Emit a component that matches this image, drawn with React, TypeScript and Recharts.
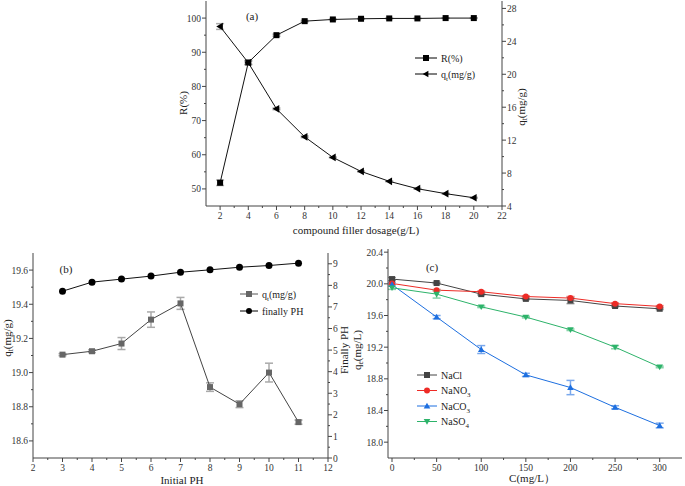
import React from "react";
import { LineChart, Line, XAxis, YAxis, ErrorBar, Legend } from "recharts";

const FONT = "'Liberation Serif', 'Times New Roman', serif";
const AXIS = "#444";

// (a) compound filler dosage
const dosage = [2, 4, 6, 8, 10, 12, 14, 16, 18, 20];
const removal = [51.8, 87.0, 95.0, 99.1, 99.6, 99.8, 99.9, 99.9, 100.0, 100.0];
const removalErr = [0.8, 0.6, 0.3, 0.2, 0.1, 0.1, 0.1, 0.1, 0.1, 0.1];
const qtDosage = [25.8, 21.4, 15.8, 12.4, 9.9, 8.2, 7.0, 6.1, 5.5, 5.0];
const qtDosageErr = [0.35, 0.2, 0.1, 0.1, 0.05, 0.05, 0.05, 0.05, 0.05, 0.05];
const dosageTicks = [2, 4, 6, 8, 10, 12, 14, 16, 18, 20, 22];
const dosageMinor = [3, 5, 7, 9, 11, 13, 15, 17, 19, 21];
const removalTicks = [50, 60, 70, 80, 90, 100];
const removalMinor = [55, 65, 75, 85, 95];
const qtTicksA = [4, 8, 12, 16, 20, 24, 28];
const qtMinorA = [6, 10, 14, 18, 22, 26];

// (b) initial pH
const initialPH = [3, 4, 5, 6, 7, 8, 9, 10, 11];
const qtPH = [19.105, 19.125, 19.17, 19.31, 19.405, 18.915, 18.815, 19.0, 18.71];
const qtPHErr = [0.006, 0.008, 0.035, 0.045, 0.035, 0.025, 0.02, 0.055, 0.012];
const finalPH = [7.73, 8.15, 8.29, 8.43, 8.61, 8.72, 8.84, 8.92, 9.03];
const phTicks = [2, 3, 4, 5, 6, 7, 8, 9, 10, 11, 12];
const phMinor = [2.5, 3.5, 4.5, 5.5, 6.5, 7.5, 8.5, 9.5, 10.5, 11.5];
const qtTicksB = [18.6, 18.8, 19.0, 19.2, 19.4, 19.6];
const qtMinorB = [18.7, 18.9, 19.1, 19.3, 19.5];
const finalTicks = [0, 1, 2, 3, 4, 5, 6, 7, 8, 9];
const finalMinor = [0.5, 1.5, 2.5, 3.5, 4.5, 5.5, 6.5, 7.5, 8.5];

// (c) coexisting salts
const conc = [0, 50, 100, 150, 200, 250, 300];
const naCl = [20.06, 20.01, 19.87, 19.81, 19.79, 19.72, 19.685];
const naClErr = [0.02, 0.01, 0.01, 0.01, 0.04, 0.01, 0.01];
const naNO3 = [20.005, 19.92, 19.9, 19.84, 19.82, 19.75, 19.715];
const naNO3Err = [0.01, 0.01, 0.01, 0.01, 0.02, 0.01, 0.01];
const naCO3 = [19.99, 19.58, 19.17, 18.85, 18.69, 18.44, 18.21];
const naCO3Err = [0.02, 0.02, 0.05, 0.02, 0.09, 0.02, 0.03];
const naSO4 = [19.95, 19.87, 19.71, 19.58, 19.42, 19.2, 18.95];
const naSO4Err = [0.02, 0.05, 0.01, 0.01, 0.01, 0.02, 0.01];
const concTicks = [0, 50, 100, 150, 200, 250, 300];
const concMinor = [25, 75, 125, 175, 225, 275];
const qeTicks = [18.0, 18.4, 18.8, 19.2, 19.6, 20.0, 20.4];
const qeMinor = [18.2, 18.6, 19.0, 19.4, 19.8, 20.2];

const dataA = dosage.map((d, i) => ({ d, r: removal[i], rErr: removalErr[i], q: qtDosage[i], qErr: qtDosageErr[i] }));
const dataB = initialPH.map((p, i) => ({ p, q: qtPH[i], qErr: qtPHErr[i], f: finalPH[i] }));
const dataC = conc.map((c, i) => ({
  c,
  cl: naCl[i], clErr: naClErr[i],
  no3: naNO3[i], no3Err: naNO3Err[i],
  co3: naCO3[i], co3Err: naCO3Err[i],
  so4: naSO4[i], so4Err: naSO4Err[i],
}));

type Shape = "square" | "circle" | "up" | "down" | "left";

function Marker({ cx, cy, shape, fill, s }: { cx: number; cy: number; shape: Shape; fill: string; s: number }) {
  if (cx == null || cy == null) return null;
  const h = s / 2;
  if (shape === "square") return <rect x={cx - h} y={cy - h} width={s} height={s} fill={fill} />;
  if (shape === "circle") return <circle cx={cx} cy={cy} r={h} fill={fill} />;
  if (shape === "up")
    return <polygon points={`${cx},${cy - h * 1.1} ${cx - h * 1.1},${cy + h * 0.8} ${cx + h * 1.1},${cy + h * 0.8}`} fill={fill} />;
  if (shape === "down")
    return <polygon points={`${cx},${cy + h * 1.1} ${cx - h * 1.1},${cy - h * 0.8} ${cx + h * 1.1},${cy - h * 0.8}`} fill={fill} />;
  return <polygon points={`${cx - h * 1.1},${cy} ${cx + h * 0.8},${cy - h * 1.1} ${cx + h * 0.8},${cy + h * 1.1}`} fill={fill} />;
}

const dotOf = (shape: Shape, fill: string, s: number) => (p: any) =>
  <Marker key={`m-${p.index}`} cx={p.cx} cy={p.cy} shape={shape} fill={fill} s={s} />;

function makeTick(side: "left" | "right" | "bottom", majors: number[], fmt: (v: number) => string) {
  return (props: any) => {
    const { x, y, payload } = props;
    const v = Number(payload.value);
    const major = majors.some((m) => Math.abs(m - v) < 1e-6);
    const len = major ? 4 : 2;
    const txt = { fontFamily: FONT, fontSize: 9.5, fill: "#333" };
    if (side === "bottom")
      return (
        <g>
          <line x1={x} y1={y} x2={x} y2={y + len} stroke={AXIS} />
          {major && <text x={x} y={y + 13} textAnchor="middle" {...txt}>{fmt(v)}</text>}
        </g>
      );
    if (side === "left")
      return (
        <g>
          <line x1={x} y1={y} x2={x - len} y2={y} stroke={AXIS} />
          {major && <text x={x - 5} y={y + 3.5} textAnchor="end" {...txt}>{fmt(v)}</text>}
        </g>
      );
    return (
      <g>
        <line x1={x} y1={y} x2={x + len} y2={y} stroke={AXIS} />
        {major && <text x={x + 5} y={y + 3.5} textAnchor="start" {...txt}>{fmt(v)}</text>}
      </g>
    );
  };
}

const int = (v: number) => String(Math.round(v));
const one = (v: number) => v.toFixed(1);

type Item = { main: string; sub?: string; rest?: string; shape: Shape; color: string; line: string };

function LegendBox({ items, gap, lineLen }: { items: Item[]; gap: number; lineLen: number }) {
  return (
    <svg width={110} height={items.length * gap + 4} style={{ overflow: "visible" }}>
      {items.map((it, i) => {
        const y = 6 + i * gap;
        return (
          <g key={it.main + (it.sub || "")}>
            <line x1={0} y1={y} x2={lineLen} y2={y} stroke={it.line} />
            <Marker cx={lineLen / 2} cy={y} shape={it.shape} fill={it.color} s={6} />
            <text x={lineLen + 4} y={y + 3.5} fontFamily={FONT} fontSize={10} fill="#222">
              <tspan>{it.main}</tspan>
              {it.sub && <tspan fontSize={7} dy={3}>{it.sub}</tspan>}
              {it.rest && <tspan dy={it.sub ? -3 : 0}>{it.rest}</tspan>}
            </text>
          </g>
        );
      })}
    </svg>
  );
}

const legendA: Item[] = [
  { main: "R(%)", shape: "square", color: "#000", line: "#000" },
  { main: "q", sub: "t", rest: "(mg/g)", shape: "left", color: "#000", line: "#000" },
];
const legendB: Item[] = [
  { main: "q", sub: "t", rest: "(mg/g)", shape: "square", color: "#666", line: "#555" },
  { main: "finally PH", shape: "circle", color: "#000", line: "#000" },
];
const legendC: Item[] = [
  { main: "NaCl", shape: "square", color: "#444", line: "#444" },
  { main: "NaNO", sub: "3", shape: "circle", color: "#ee2b26", line: "#ee2b26" },
  { main: "NaCO", sub: "3", shape: "up", color: "#1d6fe0", line: "#1d6fe0" },
  { main: "NaSO", sub: "4", shape: "down", color: "#2db36a", line: "#2db36a" },
];

const W = 685;
const H = 486;
const layer: React.CSSProperties = { position: "absolute", left: 0, top: 0 };

function Title({ x, y, rot, main, sub, rest }: { x: number; y: number; rot?: boolean; main: string; sub?: string; rest?: string }) {
  return (
    <text
      x={x}
      y={y}
      textAnchor="middle"
      dominantBaseline={rot ? "central" : undefined}
      transform={rot ? `rotate(-90 ${x} ${y})` : undefined}
      fontFamily={FONT}
      fontSize={11}
      fill="#222"
    >
      <tspan>{main}</tspan>
      {sub && <tspan fontSize={7.5} dy={3}>{sub}</tspan>}
      {rest && <tspan dy={sub ? -3 : 0}>{rest}</tspan>}
    </text>
  );
}

export default function App() {
  return (
    <div style={{ position: "absolute", left: 0, top: 0, width: W, height: H, background: "#fff" }}>
      {/* (a) */}
      <div style={layer}>
        <LineChart width={W} height={H} data={dataA} margin={{ top: 1, left: 166, right: 143, bottom: 260 }}>
          <XAxis dataKey="d" type="number" domain={[1, 22]} ticks={[...dosageTicks, ...dosageMinor]} interval={0}
            tick={makeTick("bottom", dosageTicks, int)} tickLine={false} tickSize={0} tickMargin={0} height={20}
            axisLine={{ stroke: AXIS }} allowDataOverflow />
          <XAxis xAxisId="top" orientation="top" type="number" domain={[1, 22]} tick={false} tickLine={false} height={0}
            axisLine={{ stroke: AXIS }} />
          <YAxis yAxisId="r" type="number" domain={[45, 105]} ticks={[...removalTicks, ...removalMinor]} interval={0}
            tick={makeTick("left", removalTicks, int)} tickLine={false} tickSize={0} tickMargin={0} width={40}
            axisLine={{ stroke: AXIS }} allowDataOverflow />
          <YAxis yAxisId="q" orientation="right" type="number" domain={[4, 28.9]} ticks={[...qtTicksA, ...qtMinorA]} interval={0}
            tick={makeTick("right", qtTicksA, int)} tickLine={false} tickSize={0} tickMargin={0} width={40}
            axisLine={{ stroke: AXIS }} allowDataOverflow />
          <Line yAxisId="r" dataKey="r" stroke="#111" strokeWidth={1} dot={dotOf("square", "#000", 6)} isAnimationActive={false}>
            <ErrorBar dataKey="rErr" width={4} stroke="#aaa" direction="y" />
          </Line>
          <Line yAxisId="q" dataKey="q" stroke="#111" strokeWidth={1} dot={dotOf("left", "#000", 7)} isAnimationActive={false}>
            <ErrorBar dataKey="qErr" width={4} stroke="#aaa" direction="y" />
          </Line>
          <Legend layout="vertical" align="center" verticalAlign="middle"
            wrapperStyle={{ left: 415, top: 52, width: 110, height: 34 }}
            content={() => <LegendBox items={legendA} gap={16} lineLen={22} />} />
        </LineChart>
      </div>

      {/* (b) */}
      <div style={layer}>
        <LineChart width={W} height={H} data={dataB} margin={{ top: 253, left: 3, right: 327, bottom: 8 }}>
          <XAxis dataKey="p" type="number" domain={[2, 12]} ticks={[...phTicks, ...phMinor]} interval={0}
            tick={makeTick("bottom", phTicks, int)} tickLine={false} tickSize={0} tickMargin={0} height={20}
            axisLine={{ stroke: AXIS }} />
          <XAxis xAxisId="top" orientation="top" type="number" domain={[2, 12]} tick={false} tickLine={false} height={0}
            axisLine={{ stroke: AXIS }} />
          <YAxis yAxisId="q" type="number" domain={[18.5, 19.7]} ticks={[...qtTicksB, ...qtMinorB]} interval={0}
            tick={makeTick("left", qtTicksB, one)} tickLine={false} tickSize={0} tickMargin={0} width={30}
            axisLine={{ stroke: AXIS }} allowDataOverflow />
          <YAxis yAxisId="f" orientation="right" type="number" domain={[0, 9.5]} ticks={[...finalTicks, ...finalMinor]} interval={0}
            tick={makeTick("right", finalTicks, int)} tickLine={false} tickSize={0} tickMargin={0} width={30}
            axisLine={{ stroke: AXIS }} allowDataOverflow />
          <Line yAxisId="q" dataKey="q" stroke="#444" strokeWidth={1} dot={dotOf("square", "#666", 6)} isAnimationActive={false}>
            <ErrorBar dataKey="qErr" width={4} stroke="#aaa" direction="y" />
          </Line>
          <Line yAxisId="f" dataKey="f" stroke="#111" strokeWidth={1} dot={dotOf("circle", "#000", 7)} isAnimationActive={false} />
          <Legend layout="vertical" align="center" verticalAlign="middle"
            wrapperStyle={{ left: 240, top: 288, width: 110, height: 34 }}
            content={() => <LegendBox items={legendB} gap={17} lineLen={18} />} />
        </LineChart>
      </div>

      {/* (c) */}
      <div style={layer}>
        <LineChart width={W} height={H} data={dataC} margin={{ top: 249, left: 358, right: 3, bottom: 8 }}>
          <XAxis dataKey="c" type="number" domain={[-4.5, 325]} ticks={[...concTicks, ...concMinor]} interval={0}
            tick={makeTick("bottom", concTicks, int)} tickLine={false} tickSize={0} tickMargin={0} height={20}
            axisLine={{ stroke: AXIS }} allowDataOverflow />
          <XAxis xAxisId="top" orientation="top" type="number" domain={[-4.5, 325]} tick={false} tickLine={false} height={0}
            axisLine={{ stroke: AXIS }} />
          <YAxis type="number" domain={[17.8, 20.44]} ticks={[...qeTicks, ...qeMinor]} interval={0}
            tick={makeTick("left", qeTicks, one)} tickLine={false} tickSize={0} tickMargin={0} width={30}
            axisLine={{ stroke: AXIS }} allowDataOverflow />
          <YAxis yAxisId="frame" orientation="right" type="number" domain={[0, 1]} tick={false} tickLine={false} width={0}
            axisLine={{ stroke: AXIS }} />
          <Line dataKey="cl" stroke="#444" strokeWidth={1} dot={dotOf("square", "#444", 6)} isAnimationActive={false}>
            <ErrorBar dataKey="clErr" width={4} stroke="#999" direction="y" />
          </Line>
          <Line dataKey="no3" stroke="#ee2b26" strokeWidth={1} dot={dotOf("circle", "#ee2b26", 6)} isAnimationActive={false}>
            <ErrorBar dataKey="no3Err" width={4} stroke="#f08a86" direction="y" />
          </Line>
          <Line dataKey="co3" stroke="#1d6fe0" strokeWidth={1} dot={dotOf("up", "#1d6fe0", 6)} isAnimationActive={false}>
            <ErrorBar dataKey="co3Err" width={4} stroke="#7aa8ec" direction="y" />
          </Line>
          <Line dataKey="so4" stroke="#2db36a" strokeWidth={1} dot={dotOf("down", "#2db36a", 6)} isAnimationActive={false}>
            <ErrorBar dataKey="so4Err" width={4} stroke="#86d3a8" direction="y" />
          </Line>
          <Legend layout="vertical" align="center" verticalAlign="middle"
            wrapperStyle={{ left: 417, top: 369, width: 110, height: 64 }}
            content={() => <LegendBox items={legendC} gap={15.5} lineLen={20} />} />
        </LineChart>
      </div>

      <svg width={W} height={H} style={{ ...layer, pointerEvents: "none" }}>
        <text x={252} y={20} textAnchor="middle" fontFamily={FONT} fontSize={11} fill="#222">(a)</text>
        <Title x={183} y={103} rot main="R(%)" />
        <Title x={521} y={107} rot main="q" sub="t" rest="(mg/g)" />
        <Title x={356} y={234} main="compound filler dosage(g/L)" />
        <text x={66} y={273} textAnchor="middle" fontFamily={FONT} fontSize={11} fill="#222">(b)</text>
        <Title x={7} y={338} rot main="q" sub="t" rest="(mg/g)" />
        <Title x={182} y={484} main="Initial PH" />
        <Title x={344} y={350} rot main="Finally PH" />
        <Title x={357} y={350} rot main="q" sub="e" rest="(mg/L)" />
        <text x={432} y={271} textAnchor="middle" fontFamily={FONT} fontSize={11} fill="#222">(c)</text>
        <Title x={532} y={482} main="C(mg/L）" />
      </svg>
    </div>
  );
}
